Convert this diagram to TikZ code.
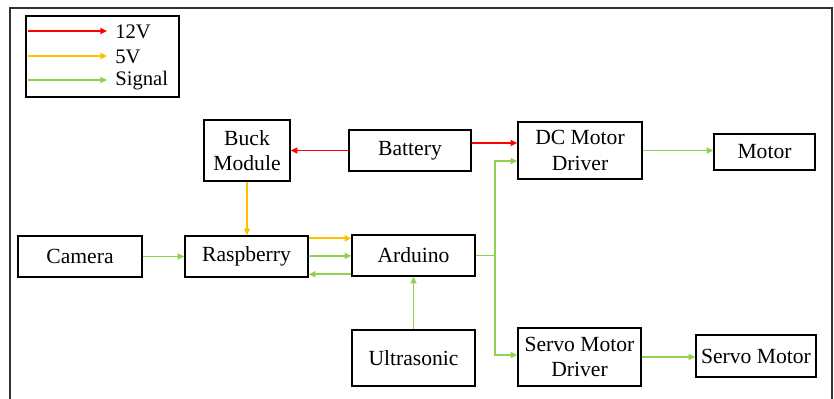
\documentclass[tikz,border=0pt]{standalone}
\usepackage{fontspec}
\setmainfont{Liberation Serif}
\usepackage{tikz}
\usetikzlibrary{arrows.meta, positioning, calc}
\definecolor{volt12}{RGB}{255, 0, 0}
\definecolor{volt5}{RGB}{255, 192, 0}
\definecolor{signal}{RGB}{146, 208, 80}

\begin{document}
\begin{tikzpicture}[
  x=0.75pt, y=-0.75pt,
  every node/.style={font=\fontsize{16.2}{19}\selectfont},
  block/.style={
    draw=black, line width=1.1pt, align=center,
    inner sep=0pt, minimum width=92.25pt, minimum height=30.75pt
  },
  arrow/.style={-{Triangle[length=5pt, width=4.5pt]}, line width=1.3pt},
  pw12/.style={arrow, color=volt12},
  pw5/.style={arrow, color=volt5},
  sig/.style={arrow, color=signal},
  legtext/.style={anchor=west, inner sep=0pt, font=\fontsize{15.5}{18}\selectfont}
]
  \useasboundingbox (0,0) rectangle (834,399);

  % Outer frame (open at the bottom)
  \draw[line width=1.5pt, color=black!80] (10,399) -- (10,8) -- (832,8) -- (832,399);

  % Legend
  \node[draw, line width=1.3pt, minimum width=114.75pt, minimum height=60.75pt, inner sep=0pt] (legend) at (102.5,56.5) {};
  \coordinate (l12a) at (28,31);  \coordinate (l12b) at (107,31);
  \coordinate (l5a) at (28,56);   \coordinate (l5b) at (107,56);
  \coordinate (lsa) at (28,80);   \coordinate (lsb) at (107,80);
  \draw[pw12] (l12a) -- (l12b);
  \draw[pw5] (l5a) -- (l5b);
  \draw[sig] (lsa) -- (lsb);
  \node[legtext] (t12) at (115,32) {12V};
  \node[legtext] (t5) at (115,57) {5V};
  \node[legtext] (tsig) at (115,81) {Signal};

  % Main blocks
  \node[block, minimum width=64.5pt, minimum height=45.75pt] (buck) at (247,150.5) {Buck\\Module};
  \node[block, minimum width=91.5pt] (battery) at (410,150.5) {Battery};
  \node[block, minimum width=93pt, minimum height=42.75pt] (dcdrv) at (580,150.5) {DC Motor\\Driver};
  \node[block, minimum width=75.75pt, minimum height=27pt] (motor) at (764.5,152) {Motor};
  \node[block, minimum width=93pt] (camera) at (80,256.5) {Camera};
  \node[block] (rasp) at (246.5,256.5) {Raspberry};
  \node[block] (arduino) at (413.5,255.5) {Arduino};
  \node[block, minimum height=42pt] (ultra) at (413.5,358) {Ultrasonic};
  \node[block, minimum height=43.5pt] (srvdrv) at (579.5,357) {Servo Motor\\Driver};
  \node[block, minimum width=90pt, minimum height=31.5pt] (servo) at (756,356) {Servo Motor};

  % Power lines
  \draw[pw12] (battery) -- (buck);
  \draw[pw12] ([yshift=5.6pt]battery.east) -- ([yshift=5.6pt]battery.east -| dcdrv.west);
  \draw[pw5] (buck.south) -- (buck.south |- rasp.north);
  \draw[pw5] ([yshift=-2.3pt]rasp.north east) -- ([yshift=-2.3pt]rasp.north east -| arduino.west);

  % Signal lines
  \draw[sig] (camera) -- (rasp);
  \draw[sig] (rasp) -- (arduino);
  \draw[sig] ([yshift=1.9pt]arduino.south west) -- ([yshift=1.9pt]arduino.south west -| rasp.east);
  \draw[sig] (ultra) -- (arduino);
  \coordinate (split) at (495,255.5);
  \draw[color=signal, line width=1.3pt] (arduino.east) -- (split);
  \draw[sig] (split) |- ([yshift=-7.9pt]dcdrv.west);
  \draw[sig] (split) |- ([yshift=1.5pt]srvdrv.west);
  \draw[sig] (dcdrv.east) -- (dcdrv.east -| motor.west);
  \draw[sig] (srvdrv.east) -- (srvdrv.east -| servo.west);
\end{tikzpicture}
\end{document}
